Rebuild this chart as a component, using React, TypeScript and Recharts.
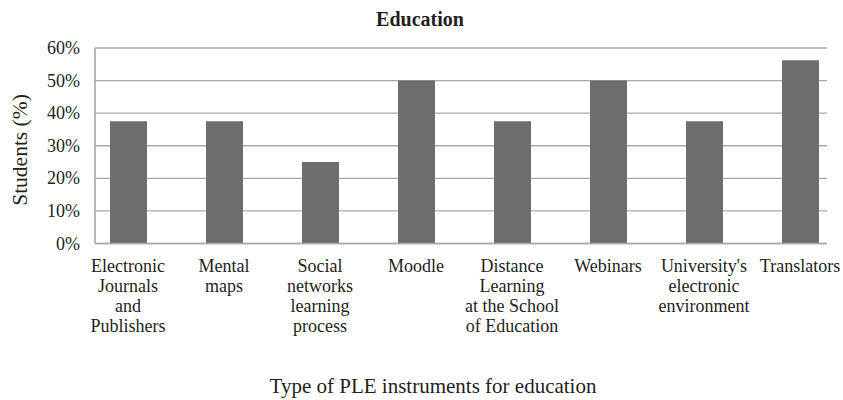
import React from 'react';
import { BarChart, Bar, XAxis, YAxis, CartesianGrid, Customized } from 'recharts';

const categories = [
  "Electronic\nJournals\nand\nPublishers",
  "Mental\nmaps",
  "Social\nnetworks\nlearning\nprocess",
  "Moodle",
  "Distance\nLearning\nat the School\nof Education",
  "Webinars",
  "University's\nelectronic\nenvironment",
  "Translators",
];
const studentsPct = [37.5, 37.5, 25, 50, 37.5, 50, 37.5, 56.25];
const yTicks = [0, 10, 20, 30, 40, 50, 60];
const chartTitle = "Education";
const xTitle = "Type of PLE instruments for education";
const yTitle = "Students (%)";

const data = categories.map((c, i) => ({ category: c, value: studentsPct[i] }));

const FONT = 'Liberation Serif';
const TEXT = '#231f20';
const GRID = '#a8a8a8';
const fontStyle = { fontFamily: FONT };

const XTick = (props: any) => {
  const { x, y, payload } = props;
  const lines = String(payload.value).split('\n');
  return (
    <text x={x} y={y} textAnchor="middle" style={fontStyle} fontSize={18} fill={TEXT}>
      {lines.map((l, i) => (
        <tspan key={i} x={x} dy={i === 0 ? 28 : 20}>{l}</tspan>
      ))}
    </text>
  );
};

const YTick = (props: any) => {
  const { x, y, payload } = props;
  return (
    <text x={x} y={y} dy={6} textAnchor="end" style={fontStyle} fontSize={18} fill={TEXT}>
      {`${payload.value}%`}
    </text>
  );
};

const Titles = () => (
  <g>
    <text x={420} y={26} textAnchor="middle" style={fontStyle} fontSize={20} fontWeight="bold" fill={TEXT}>
      {chartTitle}
    </text>
    <text x={433} y={393} textAnchor="middle" style={fontStyle} fontSize={21} fill={TEXT}>
      {xTitle}
    </text>
    <text x={27} y={150} textAnchor="middle" style={fontStyle} fontSize={21.5} fill={TEXT} transform="rotate(-90, 27, 150)">
      {yTitle}
    </text>
  </g>
);

export default function App() {
  return (
    <div style={{ position: 'absolute', left: 0, top: 0, width: 843, height: 400, background: '#fff', fontFamily: FONT }}>
      <BarChart width={843} height={400} data={data} margin={{ top: 48, right: 16, bottom: 56.5, left: 0 }}>
        <CartesianGrid vertical={false} stroke={GRID} strokeWidth={1.4} />
        <XAxis
          dataKey="category"
          interval={0}
          height={100}
          tickLine={false}
          tickSize={0}
          tickMargin={0}
          axisLine={{ stroke: GRID, strokeWidth: 1.6 }}
          padding={{ left: -15, right: -21 }}
          tick={<XTick />}
        />
        <YAxis
          width={95}
          domain={[0, 60]}
          ticks={yTicks}
          tickLine={false}
          tickSize={0}
          tickMargin={15}
          axisLine={{ stroke: GRID, strokeWidth: 1.6 }}
          tick={<YTick />}
        />
        <Bar dataKey="value" fill="#6c6d6f" barSize={37} isAnimationActive={false} />
        <Customized component={Titles} />
      </BarChart>
    </div>
  );
}
